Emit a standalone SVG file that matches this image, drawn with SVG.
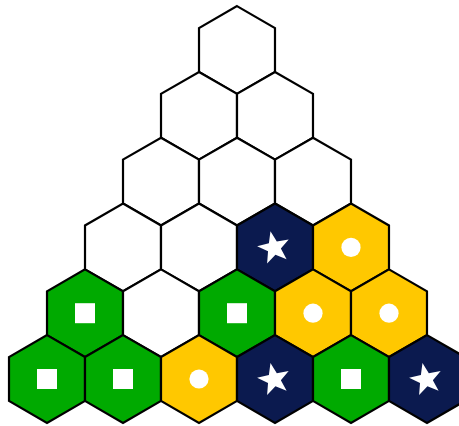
<svg xmlns="http://www.w3.org/2000/svg" xmlns:xlink="http://www.w3.org/1999/xlink" width="459" height="426" viewBox="0 0 459 426">
<style>
.hex{stroke:#000;stroke-width:2.2;stroke-linejoin:miter}
.w{fill:#fff}.g{fill:#00aa00}.y{fill:#ffc800}.n{fill:#0b1a4f}
.mark{fill:#fff}
</style>
<defs>
<polygon id="hx" points="0,-43.87 37.99,-21.93 37.99,21.93 0,43.87 -37.99,21.93 -37.99,-21.93"/>
<polygon id="st" transform="rotate(-12) scale(1.06)" points="0,-16 3.82,-5.26 15.22,-4.94 6.18,2.01 9.4,12.94 0,6.5 -9.4,12.94 -6.18,2.01 -15.22,-4.94 -3.82,-5.26"/>
<rect id="sq" x="-10" y="-10" width="20" height="20"/>
<circle id="ci" r="9.6"/>
</defs>
<g id="connectors"/>
<g id="h0-0" transform="translate(237,50)"><use href="#hx" class="hex w"/></g>
<g id="h1-0" transform="translate(199,115.8)"><use href="#hx" class="hex w"/></g>
<g id="h1-1" transform="translate(275,115.8)"><use href="#hx" class="hex w"/></g>
<g id="h2-0" transform="translate(161,181.6)"><use href="#hx" class="hex w"/></g>
<g id="h2-1" transform="translate(237,181.6)"><use href="#hx" class="hex w"/></g>
<g id="h2-2" transform="translate(313,181.6)"><use href="#hx" class="hex w"/></g>
<g id="h3-0" transform="translate(123,247.4)"><use href="#hx" class="hex w"/></g>
<g id="h3-1" transform="translate(199,247.4)"><use href="#hx" class="hex w"/></g>
<g id="h3-2" transform="translate(275,247.4)"><use href="#hx" class="hex n"/><use href="#st" class="mark" x="-1" y="0.5"/></g>
<g id="h3-3" transform="translate(351,247.4)"><use href="#hx" class="hex y"/><use href="#ci" class="mark"/></g>
<g id="h4-0" transform="translate(85,313.2)"><use href="#hx" class="hex g"/><use href="#sq" class="mark"/></g>
<g id="h4-1" transform="translate(161,313.2)"><use href="#hx" class="hex w"/></g>
<g id="h4-2" transform="translate(237,313.2)"><use href="#hx" class="hex g"/><use href="#sq" class="mark"/></g>
<g id="h4-3" transform="translate(313,313.2)"><use href="#hx" class="hex y"/><use href="#ci" class="mark"/></g>
<g id="h4-4" transform="translate(389,313.2)"><use href="#hx" class="hex y"/><use href="#ci" class="mark"/></g>
<g id="h5-0" transform="translate(47,379)"><use href="#hx" class="hex g"/><use href="#sq" class="mark"/></g>
<g id="h5-1" transform="translate(123,379)"><use href="#hx" class="hex g"/><use href="#sq" class="mark"/></g>
<g id="h5-2" transform="translate(199,379)"><use href="#hx" class="hex y"/><use href="#ci" class="mark"/></g>
<g id="h5-3" transform="translate(275,379)"><use href="#hx" class="hex n"/><use href="#st" class="mark" x="-1" y="0.5"/></g>
<g id="h5-4" transform="translate(351,379)"><use href="#hx" class="hex g"/><use href="#sq" class="mark"/></g>
<g id="h5-5" transform="translate(427,379)"><use href="#hx" class="hex n"/><use href="#st" class="mark" x="-1" y="0.5"/></g>
</svg>
